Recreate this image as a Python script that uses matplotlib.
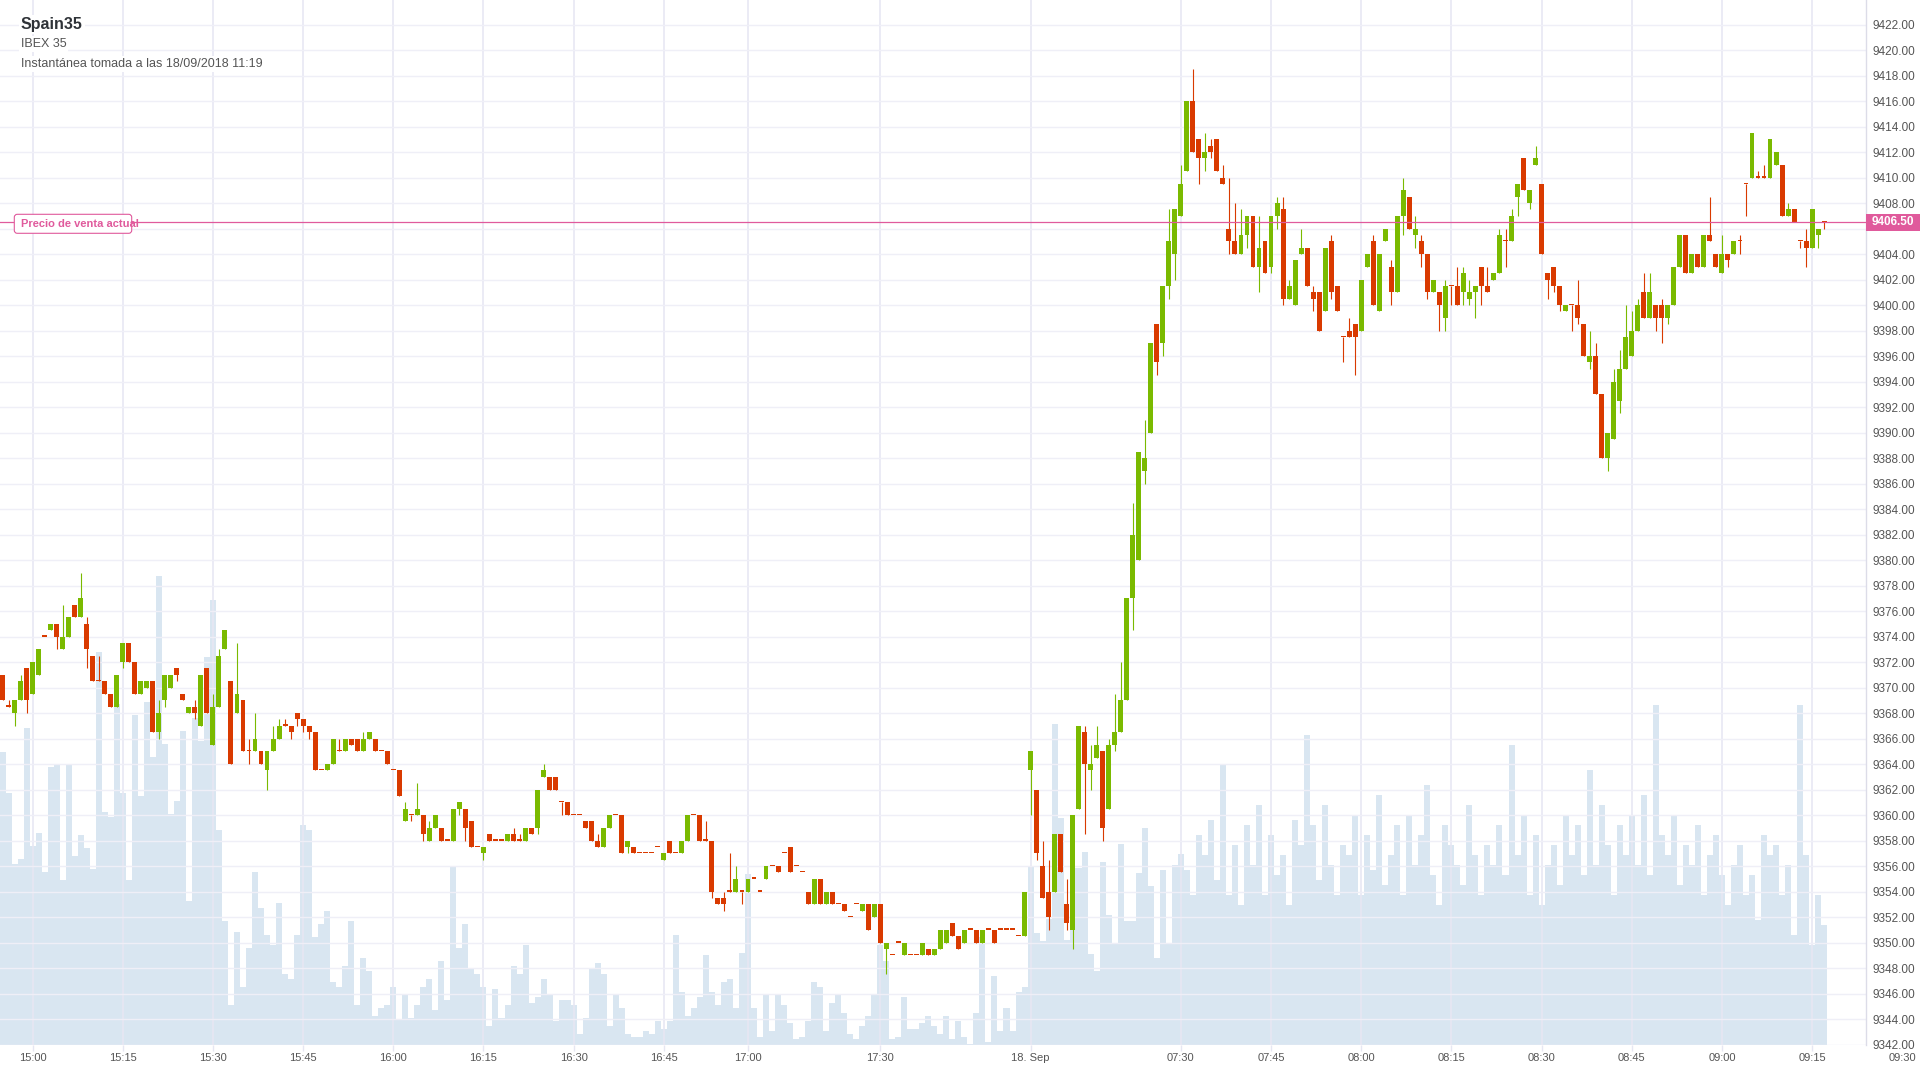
import matplotlib
matplotlib.use("Agg")
import matplotlib.pyplot as plt
from matplotlib.patches import Rectangle, FancyBboxPatch
from matplotlib.transforms import blended_transform_factory

plt.rcParams["font.family"] = ["Liberation Sans", "DejaVu Sans"]

# ---------------------------------------------------------------------------
# Data (1-minute candles)
# ---------------------------------------------------------------------------

opens = [
    9371, 9368.5, 9368, 9369, 9371.5, 9369.5, 9371, 9374, 9374.5, 9375,
    9373, 9374, 9376.5, 9375.5, 9375, 9372.5, 9370.5, 9370.5, 9369.5, 9368.5,
    9372, 9373.5, 9372, 9369.5, 9370, 9370.5, 9366.5, 9369, 9370, 9371.5,
    9369.5, 9368, 9368.5, 9367, 9371.5, 9365.5, 9368.5, 9373, 9370.5, 9368,
    9369, 9365, 9365, 9365, 9363.5, 9365, 9366, 9367, 9367, 9368,
    9367.5, 9367, 9366.5, 9363.5, 9363.5, 9364, 9365, 9365, 9366, 9366,
    9365, 9366, 9366, 9365, 9365, 9363.5, 9363.5, 9359.5, 9360, 9360,
    9360, 9358, 9359, 9359, 9358, 9358, 9360.5, 9360.5, 9359.5, 9357.5,
    9357, 9358.5, 9358, 9358, 9358, 9358.5, 9358, 9358, 9359, 9359,
    9363, 9363, 9363, 9361, 9361, 9360, 9360, 9359.5, 9359.5, 9358,
    9357.5, 9359, 9360, 9360, 9357.5, 9357.5, 9357, 9357, 9357, 9357.5,
    9356.5, 9358, 9357, 9357, 9358, 9360, 9360, 9358, 9358, 9353.5,
    9353.5, 9354, 9354, 9354, 9354, 9355, 9354, 9355, 9356, 9356,
    9357, 9357.5, 9356, 9355.5, 9354, 9353, 9355, 9353, 9354, 9353,
    9353, 9352, 9353, 9352.5, 9353, 9352, 9353, 9349.5, 9349, 9350,
    9349, 9349, 9349, 9349, 9349.5, 9349, 9349.5, 9350, 9351.5, 9350.5,
    9350, 9351, 9351, 9350, 9351, 9351, 9351, 9351, 9351, 9350.5,
    9350.5, 9363.5, 9362, 9356, 9354, 9354, 9358.5, 9353, 9351, 9360.5,
    9366.5, 9363.5, 9364.5, 9365, 9360.5, 9365.5, 9366.5, 9369, 9377, 9380,
    9387, 9390, 9398.5, 9397, 9401.5, 9404, 9407, 9410.5, 9416, 9413,
    9411.5, 9412.5, 9413, 9410, 9406, 9405, 9404, 9405.5, 9407, 9403,
    9405, 9403, 9407, 9407.5, 9400.5, 9400, 9404, 9404.5, 9401, 9401,
    9399.5, 9405, 9401.5, 9397.5, 9398, 9398.5, 9398, 9403, 9405, 9399.5,
    9405, 9403, 9401, 9407, 9408.5, 9405.5, 9405, 9404, 9401, 9401,
    9399, 9401.5, 9401.5, 9401, 9400.5, 9401, 9403, 9401.5, 9402, 9402.5,
    9405, 9405, 9408.5, 9411.5, 9408, 9411, 9409.5, 9402.5, 9403, 9401.5,
    9399.5, 9400, 9400, 9398.5, 9395.5, 9396, 9393, 9388, 9389.5, 9392.5,
    9395, 9396, 9398, 9401, 9399, 9400, 9400, 9399, 9400, 9403,
    9405.5, 9402.5, 9404, 9403, 9405.5, 9404, 9402.5, 9404, 9404, 9405,
    9409.5, 9410, 9410, 9410, 9410, 9411, 9411, 9407, 9407.5, 9405,
    9405, 9404.5, 9405.5, 9406.5,
]

highs = [
    9371, 9369, 9369, 9371, 9371.5, 9372, 9373, 9374, 9375, 9375,
    9376.5, 9375.5, 9376.5, 9379, 9375.5, 9372.5, 9372.5, 9370.5, 9369.5, 9371,
    9373.5, 9373.5, 9372, 9370.5, 9370.5, 9370.5, 9369, 9371, 9371, 9371.5,
    9369.5, 9368.5, 9369, 9371, 9371.5, 9369.5, 9373, 9374.5, 9370.5, 9373.5,
    9369, 9366, 9368, 9365, 9365, 9367, 9367.5, 9367.5, 9367, 9368,
    9367.5, 9367, 9366.5, 9363.5, 9364, 9366, 9366, 9366, 9366, 9366,
    9366.5, 9366.5, 9366, 9365, 9365, 9363.5, 9363.5, 9361, 9360, 9362.5,
    9360, 9359.5, 9360, 9359, 9358, 9360.5, 9361, 9360.5, 9359.5, 9357.5,
    9357.5, 9358.5, 9358, 9358, 9358.5, 9359, 9358.5, 9359, 9359, 9362,
    9364, 9363, 9363, 9361, 9361, 9360, 9360, 9359.5, 9359.5, 9358.5,
    9359, 9360, 9360, 9360, 9358, 9357.5, 9357, 9357, 9357, 9357.5,
    9357, 9358, 9357, 9358, 9360, 9360, 9360, 9359.5, 9358, 9353.5,
    9354, 9357, 9356, 9354, 9355, 9355, 9354, 9356, 9356, 9356,
    9357, 9357.5, 9356, 9355.5, 9354, 9355, 9355, 9354, 9354, 9353,
    9353, 9352, 9353, 9353, 9353, 9353, 9353, 9350, 9349, 9350,
    9350, 9349, 9349, 9350, 9349.5, 9349.5, 9351, 9351, 9351.5, 9350.5,
    9351, 9351, 9351, 9351, 9351, 9351, 9351, 9351, 9351, 9350.5,
    9354, 9365, 9362, 9358, 9356.5, 9358.5, 9358.5, 9355, 9360, 9367,
    9367, 9365.5, 9367, 9365, 9366, 9369.5, 9372, 9377, 9384.5, 9388.5,
    9391, 9397, 9398.5, 9401.5, 9407.5, 9407.5, 9411, 9416, 9418.5, 9413,
    9413.5, 9413, 9413, 9411, 9410, 9408, 9407.5, 9407, 9407, 9407,
    9405, 9407, 9408.5, 9408.5, 9402, 9403.5, 9406, 9404.5, 9401.5, 9401,
    9404.5, 9405.5, 9401.5, 9397.5, 9399, 9398.5, 9402, 9404, 9405.5, 9404,
    9406, 9403.5, 9407, 9410, 9408.5, 9407, 9405.5, 9404, 9402, 9401,
    9402, 9401.5, 9403, 9403, 9402, 9401.5, 9403, 9403, 9402.5, 9406,
    9406, 9407.5, 9409.5, 9411.5, 9409, 9412.5, 9409.5, 9402.5, 9403, 9401.5,
    9400, 9400, 9402, 9398.5, 9398, 9397, 9393, 9390, 9395, 9396.5,
    9400, 9399.5, 9400.5, 9402.5, 9402.5, 9400, 9400.5, 9400, 9403, 9405.5,
    9405.5, 9404, 9404, 9405.5, 9408.5, 9404, 9405.5, 9404, 9405, 9405.5,
    9409.5, 9413.5, 9410.5, 9411, 9413, 9412, 9411, 9408, 9407.5, 9405,
    9406, 9407.5, 9406, 9406.5,
]

lows = [
    9369, 9368.5, 9367, 9369, 9368, 9369.5, 9371, 9374, 9374.5, 9373,
    9373, 9374, 9375.5, 9375.5, 9371.5, 9370.5, 9370.5, 9369.5, 9368.5, 9368.5,
    9371.5, 9372, 9369.5, 9369.5, 9370, 9366.5, 9366, 9368.5, 9370, 9370.5,
    9369, 9368, 9367.5, 9367, 9368, 9365.5, 9368.5, 9373, 9364, 9368,
    9365, 9364, 9365, 9364, 9362, 9365, 9366, 9367, 9366, 9367,
    9366.5, 9366, 9363.5, 9363.5, 9363.5, 9364, 9365, 9365, 9365.5, 9365,
    9365, 9366, 9365, 9365, 9364, 9363.5, 9361.5, 9359.5, 9359.5, 9360,
    9358, 9358, 9359, 9358, 9358, 9358, 9360, 9358, 9357.5, 9357.5,
    9356.5, 9358, 9358, 9358, 9358, 9358, 9358, 9358, 9358.5, 9358.5,
    9363, 9362, 9362, 9360, 9360, 9360, 9360, 9359, 9358, 9357.5,
    9357.5, 9359, 9360, 9357, 9357, 9357, 9357, 9357, 9357, 9357.5,
    9356.5, 9357, 9357, 9357, 9358, 9360, 9358, 9358, 9353.5, 9353,
    9352.5, 9354, 9354, 9353, 9354, 9355, 9354, 9355, 9356, 9355.5,
    9357, 9355.5, 9356, 9355.5, 9353, 9353, 9353, 9353, 9353, 9353,
    9352.5, 9352, 9353, 9352.5, 9351, 9352, 9350, 9347.5, 9349, 9350,
    9349, 9349, 9349, 9349, 9349, 9349, 9349.5, 9350, 9350.5, 9349.5,
    9350, 9351, 9350, 9350, 9351, 9350, 9351, 9351, 9351, 9350.5,
    9350.5, 9360, 9356.5, 9353.5, 9351, 9354, 9355.5, 9351, 9349.5, 9360.5,
    9358.5, 9362, 9364.5, 9358, 9360.5, 9365, 9366.5, 9369, 9374.5, 9380,
    9386, 9390, 9394.5, 9396, 9400.5, 9402, 9407, 9410.5, 9412, 9409.5,
    9410.5, 9411.5, 9410.5, 9409.5, 9404, 9404, 9404, 9404.5, 9403, 9401,
    9402.5, 9402.5, 9406, 9400, 9400.5, 9400, 9404, 9401.5, 9399.5, 9398,
    9399.5, 9400.5, 9399.5, 9395.5, 9397.5, 9394.5, 9398, 9403, 9400, 9399.5,
    9405, 9400, 9401, 9405.5, 9406, 9404.5, 9403, 9400.5, 9401, 9398,
    9398, 9400, 9400, 9400, 9400, 9399, 9400, 9401, 9402, 9402.5,
    9403, 9405, 9407, 9409, 9407.5, 9411, 9404, 9400.5, 9401, 9399.5,
    9399.5, 9398, 9398.5, 9396, 9395, 9393, 9388, 9387, 9389.5, 9391.5,
    9395, 9396, 9398, 9399, 9399, 9398, 9397, 9398.5, 9400, 9403,
    9402.5, 9402.5, 9403, 9403, 9405, 9403, 9402.5, 9403, 9404, 9404,
    9407, 9410, 9410, 9410, 9410, 9411, 9407, 9407, 9406.5, 9404.5,
    9403, 9404.5, 9404.5, 9406,
]

closes = [
    9369, 9368.5, 9369, 9370.5, 9369, 9372, 9373, 9374, 9375, 9374,
    9374, 9375.5, 9375.5, 9377, 9373, 9370.5, 9370.5, 9369.5, 9368.5, 9371,
    9373.5, 9372, 9369.5, 9370.5, 9370.5, 9366.5, 9368, 9371, 9371, 9371,
    9369, 9368.5, 9368, 9371, 9368, 9368.5, 9372.5, 9374.5, 9364, 9369.5,
    9365, 9365, 9366, 9364, 9365, 9366, 9367, 9367, 9366.5, 9367.5,
    9367, 9366.5, 9363.5, 9363.5, 9364, 9366, 9365, 9366, 9365.5, 9365,
    9366, 9366.5, 9365, 9365, 9364, 9363.5, 9361.5, 9360.5, 9360, 9360.5,
    9358.5, 9359, 9360, 9358, 9358, 9360.5, 9361, 9359, 9357.5, 9357.5,
    9357.5, 9358, 9358, 9358, 9358.5, 9358, 9358, 9359, 9358.5, 9362,
    9363.5, 9362, 9362, 9361, 9360, 9360, 9360, 9359, 9358, 9357.5,
    9359, 9360, 9360, 9357, 9358, 9357, 9357, 9357, 9357, 9357.5,
    9357, 9357, 9357, 9358, 9360, 9360, 9358, 9358, 9354, 9353,
    9353, 9354, 9355, 9354, 9355, 9355, 9354, 9356, 9356, 9355.5,
    9357, 9355.5, 9356, 9355.5, 9353, 9355, 9353, 9354, 9353, 9353,
    9352.5, 9352, 9353, 9353, 9351, 9353, 9350, 9350, 9349, 9350,
    9350, 9349, 9349, 9350, 9349, 9349.5, 9351, 9351, 9350.5, 9349.5,
    9351, 9351, 9350, 9351, 9351, 9350, 9351, 9351, 9351, 9350.5,
    9354, 9365, 9357, 9353.5, 9352, 9358.5, 9355.5, 9351.5, 9360, 9367,
    9364, 9364, 9365.5, 9359, 9365.5, 9366.5, 9369, 9377, 9382, 9388.5,
    9388, 9397, 9395.5, 9401.5, 9405, 9407.5, 9409.5, 9416, 9412, 9411.5,
    9412, 9412, 9410.5, 9409.5, 9405, 9404, 9405.5, 9407, 9403, 9404.5,
    9402.5, 9407, 9408, 9400.5, 9401.5, 9403.5, 9404.5, 9401.5, 9400.5, 9398,
    9404.5, 9401, 9399.5, 9397.5, 9397.5, 9397.5, 9402, 9404, 9400, 9404,
    9406, 9401, 9407, 9409, 9406, 9406, 9404, 9401, 9402, 9400,
    9401.5, 9401.5, 9400, 9402.5, 9401, 9401.5, 9401.5, 9401, 9402.5, 9405.5,
    9405, 9407, 9409.5, 9409, 9409, 9411.5, 9404, 9402, 9401.5, 9400,
    9400, 9400, 9399, 9396, 9396, 9393, 9388, 9390, 9394, 9395,
    9397.5, 9398, 9400, 9399, 9401, 9399, 9399, 9400, 9403, 9405.5,
    9402.5, 9404, 9403, 9405.5, 9405, 9403, 9404, 9403.5, 9405, 9405,
    9409.5, 9413.5, 9410, 9410, 9413, 9412, 9407, 9407.5, 9406.5, 9405,
    9404.5, 9407.5, 9406, 9406.5,
]

volumes = [
    58.6, 50.4, 36.2, 37.2, 63.4, 39.9, 42.4, 34.6, 55.6, 56,
    33, 56, 37.8, 42, 39.4, 35.2, 78.6, 46.6, 45.7, 68.2,
    50.4, 33, 66, 49.8, 68.6, 57.6, 93.8, 60.2, 46.2, 48.8,
    62.8, 28.8, 65.4, 60.8, 77.6, 89, 43, 24.8, 8, 22.6,
    11.6, 19.4, 34.6, 27.4, 22, 20, 28.4, 14.2, 13.2, 22,
    44, 43, 21.6, 24.2, 26.8, 12.6, 11.6, 15.8, 24.8, 8,
    17.4, 14.8, 5.8, 7.4, 8, 11.6, 5, 10, 5.4, 8,
    11.6, 13.2, 7, 16.8, 9, 35.6, 19.4, 24.2, 15.2, 14.2,
    11.6, 3.8, 11.2, 5.4, 8, 15.8, 14.2, 20, 8.4, 9.6,
    13.2, 10, 4.8, 9, 9, 8, 2.2, 5.4, 15.2, 16.4,
    14.2, 3.8, 10, 7.4, 2.2, 1.6, 1.6, 2.8, 2.2, 4.8,
    3.2, 4.8, 22, 10.6, 5.8, 7.4, 9.6, 18, 10.6, 8,
    12.6, 13.2, 7.4, 18.4, 34.2, 7.4, 1.6, 10, 2.8, 10,
    8, 4.4, 1.2, 1.6, 4.8, 12.6, 11.6, 2.8, 8.4, 10,
    6.4, 2.2, 1.2, 3.8, 5.8, 10, 20, 16.8, 1.2, 1.6,
    9.6, 3.2, 3.2, 4.4, 5.8, 3.8, 2.2, 5.8, 1.2, 4.8,
    1.6, 0.2, 6.4, 21.6, 0.6, 13.8, 2.8, 7.4, 2.8, 10.6,
    11.6, 35.6, 22.4, 20.8, 25.3, 64.3, 45.5, 21, 35.4, 35.4,
    38.6, 18.2, 14.8, 36.6, 26, 20.4, 40.2, 24.8, 24.8, 34.4,
    43.4, 31.8, 17.4, 35, 20.4, 36, 38.2, 35, 30, 42,
    38, 45, 33, 56, 30, 40, 28, 44, 36, 48,
    30, 42, 34, 38, 28, 45, 40, 62, 44, 33,
    48, 36, 30, 40, 38, 46, 30, 42, 35, 50,
    32, 38, 44, 30, 46, 36, 42, 52, 34, 28,
    44, 40, 36, 32, 48, 38, 30, 40, 36, 44,
    34, 60, 38, 46, 30, 42, 28, 36, 40, 32,
    46, 38, 44, 34, 55, 36, 48, 40, 30, 44,
    38, 46, 36, 50, 34, 68, 42, 38, 46, 32,
    40, 36, 44, 30, 38, 42, 34, 28, 36, 40,
    30, 34, 25, 42, 38, 40, 30, 36, 22, 68,
    38, 20, 30, 24,
]

tick_pos = [5, 20, 35, 50, 65, 80, 95, 110, 124, 146,
            171, 196, 211, 226, 241, 256, 271, 286, 301]
tick_labels = ["15:00", "15:15", "15:30", "15:45", "16:00", "16:15", "16:30",
               "16:45", "17:00", "17:30", "18. Sep", "07:30", "07:45", "08:00",
               "08:15", "08:30", "08:45", "09:00", "09:15"]
extra_tick_pos = 316
extra_tick_label = "09:30"

current_price = 9406.5
price_ticks = list(range(9342, 9424, 2))

# ---------------------------------------------------------------------------
# Style
# ---------------------------------------------------------------------------

GREEN = "#7aba00"
RED = "#d93a00"
VOL = "#d9e6f1"
PINK = "#e05a9c"
GRID_H = "#efeff7"
GRID_V = "#e7e7f3"
LABEL = "#555555"

W, H = 1920, 1080
PLOT_RIGHT = 1866
PLOT_BOTTOM = 1045
STEP = 6.012          # pixels per candle
X0 = 2.5              # pixel centre of the first candle

# ---------------------------------------------------------------------------
# Plot
# ---------------------------------------------------------------------------

fig = plt.figure(figsize=(W / 100, H / 100), dpi=100)
fig.patch.set_facecolor("white")
rect = [0, 1 - PLOT_BOTTOM / H, PLOT_RIGHT / W, PLOT_BOTTOM / H]

xlim = (-X0 / STEP, (PLOT_RIGHT - X0) / STEP)
n = len(opens)
xs = list(range(n))

# volume underneath
ax_vol = fig.add_axes(rect)
ax_vol.bar(xs, volumes, width=1.0, color=VOL, linewidth=0, antialiased=False)
ax_vol.set_xlim(*xlim)
ax_vol.set_ylim(0, PLOT_BOTTOM / 5)
ax_vol.axis("off")

# price axes on top
ax = fig.add_axes(rect)
ax.patch.set_alpha(0)
ax.set_xlim(*xlim)
ax.set_ylim(9422 - (PLOT_BOTTOM - 24.5) / 12.75, 9422 + 24.5 / 12.75)

ax.set_axisbelow(True)
ax.set_yticks(price_ticks)
# the 9406 label sits under the current-price tag
ax.set_yticklabels(["" if v == 9406 else f"{v:.2f}" for v in price_ticks])
ax.set_xticks(tick_pos)
ax.set_xticklabels(tick_labels)
ax.grid(axis="y", color=GRID_H, linewidth=1.0)
ax.grid(axis="x", color=GRID_V, linewidth=1.2)
ax.yaxis.tick_right()
ax.tick_params(axis="y", length=0, pad=4.5, labelsize=8.5, labelcolor=LABEL)
ax.tick_params(axis="x", length=4.5, width=1, color=GRID_V, pad=1.5,
               labelsize=8, labelcolor=LABEL)
for side in ["top", "left", "bottom"]:
    ax.spines[side].set_visible(False)
ax.spines["right"].set_color("#dcdce8")
ax.spines["right"].set_linewidth(1.0)

ax.annotate(extra_tick_label, xy=(extra_tick_pos, 0),
            xycoords=("data", "axes fraction"), xytext=(0, -6.0),
            textcoords="offset points", ha="center", va="top",
            fontsize=8, color=LABEL, annotation_clip=False)

# candles
colors = [GREEN if c > o else RED for o, c in zip(opens, closes)]
bottoms = [min(o, c) for o, c in zip(opens, closes)]
heights = [max(abs(c - o), 0.1) for o, c in zip(opens, closes)]
ax.vlines(xs, lows, highs, colors=colors, linewidth=0.8, zorder=2)
ax.bar(xs, heights, bottom=bottoms, width=0.82, color=colors,
       linewidth=0, zorder=3)

# current price line and labels
ax.axhline(current_price, color=PINK, linewidth=0.9, zorder=4)
blend = blended_transform_factory(ax.transAxes, ax.transData)
ax.add_patch(Rectangle((1.0, current_price - 0.67), 54 / PLOT_RIGHT, 1.34,
                       transform=blend, clip_on=False, facecolor=PINK,
                       edgecolor="none", zorder=10))
ax.text(1.0 + 27 / PLOT_RIGHT, current_price, f"{current_price:.2f}",
        transform=blend, ha="center", va="center", color="white",
        fontsize=8.5, fontweight="bold", zorder=11, clip_on=False)

box = FancyBboxPatch((14.3 / 100, (H - 233.3) / 100), 117.4 / 100, 19 / 100,
                     boxstyle="round,pad=0,rounding_size=0.03",
                     transform=fig.dpi_scale_trans, facecolor="white",
                     edgecolor=PINK, linewidth=0.8, zorder=5)
fig.add_artist(box)
fig.text(20.7 / W, 1 - 224 / H, "Precio de venta actual", ha="left",
         va="center", color=PINK, fontsize=8, fontweight="bold", zorder=6)

# header
bg = dict(facecolor="white", edgecolor="none", pad=1.5)
fig.text(20.8 / W, 1 - 29.3 / H, "Spain35", ha="left", va="baseline",
         fontsize=11.5, fontweight="bold", color="#2f3338", bbox=bg)
fig.text(20.7 / W, 1 - 47.3 / H, "IBEX 35", ha="left", va="baseline",
         fontsize=9, color=LABEL, bbox=bg)
fig.text(20.7 / W, 1 - 66.7 / H, "Instantánea tomada a las 18/09/2018 11:19",
         ha="left", va="baseline", fontsize=9, color=LABEL, bbox=bg)

fig.savefig("out.png", dpi=100, facecolor="white")
